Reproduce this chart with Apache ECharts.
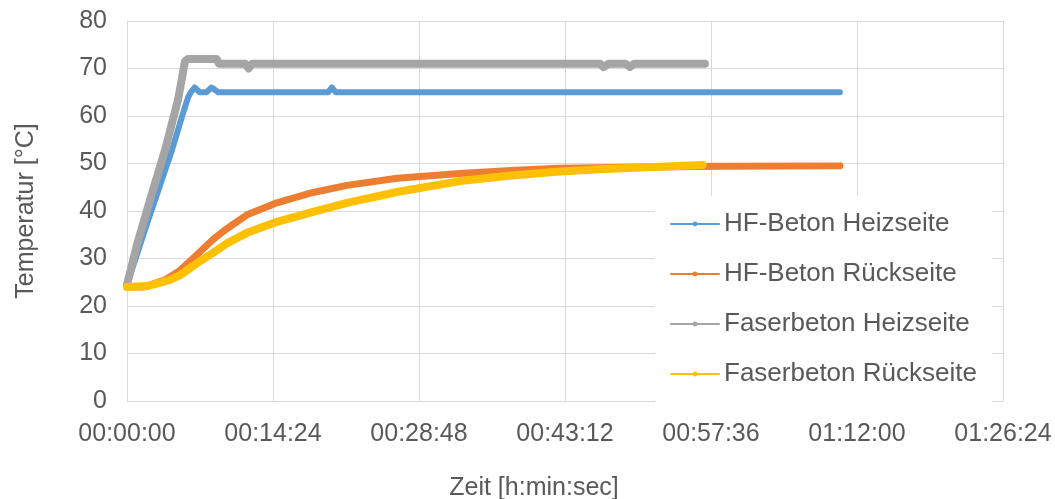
<!DOCTYPE html>
<html><head><meta charset="utf-8">
<script src="https://cdn.jsdelivr.net/npm/echarts@6/dist/echarts.min.js"></script>
<style>html,body{margin:0;padding:0;background:#fff}#c{width:1055px;height:499px}</style>
</head><body><div id="c"></div>
<script>
// time in seconds, temperature in °C
const seriesNames = ['HF-Beton Heizseite','HF-Beton Rückseite','Faserbeton Heizseite','Faserbeton Rückseite'];
const hfHeiz = [[0,24.5],[60,31],[120,37.5],[166,42.3],[220,48],[266,52.8],[325,59.8],[362,64],[378,65],[400,66],[430,65],[470,65],[500,66],[540,65],[1190,65],[1213,66],[1235,65],[2000,65],[3000,65],[4219,65]];
const hfRueck = [[0,24],[100,24],[225,25.5],[314,27.5],[420,31],[509,34],[580,36],[710,39.2],[876,41.6],[1101,43.9],[1302,45.4],[1598,46.9],[1970,47.9],[2300,48.6],[2562,49],[3000,49.2],[3500,49.4],[4219,49.5]];
const faserHeiz = [[0,24.5],[60,33],[136,42.3],[225,52.8],[302,63.4],[343,71.5],[360,72],[530,72],[545,71],[700,71],[720,70],[740,71],[1000,71],[2500,71],[2800,71],[2820,70.3],[2850,71],[2950,71],[2977,70.3],[3000,71],[3420,71]];
const faserRueck = [[0,24],[120,24.2],[254,25.5],[314,26.5],[414,29],[509,31.2],[592,33.2],[710,35.4],[876,37.6],[1101,39.8],[1302,41.7],[1598,44],[1970,46.3],[2260,47.4],[2562,48.3],[2860,48.9],[3154,49.3],[3408,49.7]];
const colors = ['#5B9BD5','#ED7D31','#A5A5A5','#FFC000'];
const lineWidths = [6,7,8,8];
const xMax = 5184, xStep = 864;
const yMax = 80, yStep = 10;

function fmt(s){const h=Math.floor(s/3600),m=Math.floor((s%3600)/60),sec=s%60;const p=n=>String(n).padStart(2,'0');return p(h)+':'+p(m)+':'+p(sec);}
const datas=[hfHeiz,hfRueck,faserHeiz,faserRueck];
const chart=echarts.init(document.getElementById('c'),null,{renderer:'canvas'});
const font='"Liberation Sans", Arial, sans-serif';
chart.setOption({
  animation:false,
  color:colors,
  grid:{left:127,right:52,top:21,bottom:98,containLabel:false,outerBoundsMode:'none'},
  legend:{orient:'vertical',left:655,top:196,width:345,height:200,padding:[13,15,13,15],
    backgroundColor:'#fff',itemWidth:48,itemHeight:6,itemGap:20,
    lineStyle:{width:2},
    textStyle:{fontFamily:font,fontSize:26,color:'#595959',lineHeight:30},
    data:seriesNames},
  xAxis:{type:'value',min:0,max:xMax,interval:xStep,
    name:'Zeit [h:min:sec]',nameLocation:'middle',nameGap:75,
    nameTextStyle:{fontFamily:font,fontSize:25,color:'#595959',padding:[0,62,0,0]},
    axisLine:{lineStyle:{color:'#d9d9d9'}},axisTick:{show:false},
    axisLabel:{formatter:fmt,fontFamily:font,fontSize:25,color:'#595959',margin:21},
    splitLine:{show:true,lineStyle:{color:'#d9d9d9'}}},
  yAxis:{type:'value',min:0,max:yMax,interval:yStep,
    name:'Temperatur [°C]',nameLocation:'middle',nameGap:88,
    nameTextStyle:{fontFamily:font,fontSize:25,color:'#595959'},
    axisLine:{show:true,lineStyle:{color:'#d9d9d9'}},axisTick:{show:false},
    axisLabel:{fontFamily:font,fontSize:25,color:'#595959',margin:20},
    splitLine:{show:true,lineStyle:{color:'#d9d9d9'}}},
  series:seriesNames.map((n,i)=>({name:n,type:'line',data:datas[i],showSymbol:false,symbol:'circle',symbolSize:5,
    lineStyle:{width:lineWidths[i],color:colors[i],cap:'round',join:'round'},itemStyle:{color:colors[i]}}))
});
</script></body></html>
